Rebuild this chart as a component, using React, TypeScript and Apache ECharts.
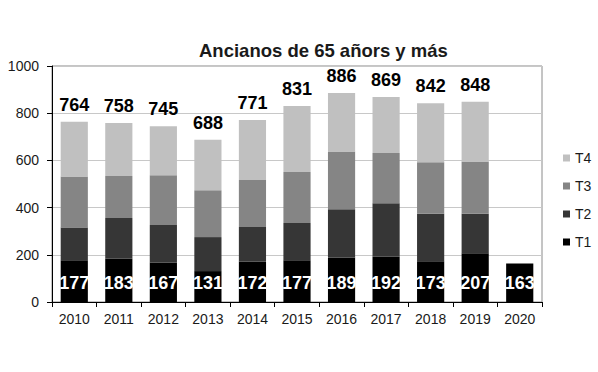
import React, { useEffect, useRef } from "react";
import * as echarts from "echarts";

const years = ["2010", "2011", "2012", "2013", "2014", "2015", "2016", "2017", "2018", "2019", "2020"];
const t1 = [177, 183, 167, 131, 172, 177, 189, 192, 173, 207, 163];
const t2: (number | null)[] = [139, 173, 159, 144, 146, 158, 204, 226, 201, 167, null];
const t3: (number | null)[] = [216, 178, 211, 198, 199, 216, 245, 213, 218, 221, null];
const t4: (number | null)[] = [232, 224, 208, 215, 254, 280, 248, 238, 250, 253, null];
const totals: (number | null)[] = [764, 758, 745, 688, 771, 831, 886, 869, 842, 848, null];
const yTicks = [0, 200, 400, 600, 800, 1000];

const FONT = "'Liberation Sans', Arial, sans-serif";

export default function App() {
  const ref = useRef<HTMLDivElement>(null);
  useEffect(() => {
    if (!ref.current) return;
    const chart = echarts.init(ref.current, null, { renderer: "svg" });
    const barCommon = {
      type: "bar" as const,
      stack: "total",
      barCategoryGap: "39%",
    };
    chart.setOption({
      animation: false,
      backgroundColor: "#ffffff",
      textStyle: { fontFamily: FONT },
      title: {
        text: "Ancianos de 65 añors y más",
        left: 194,
        top: 36,
        textStyle: { fontSize: 18.5, fontWeight: "bold", color: "#1a1a1a", fontFamily: FONT },
      },
      legend: {
        orient: "vertical",
        left: 558,
        top: 146,
        itemWidth: 7,
        itemHeight: 7,
        itemGap: 14,
        icon: "rect",
        data: ["T4", "T3", "T2", "T1"],
        textStyle: { fontSize: 14, color: "#1a1a1a", fontFamily: FONT },
      },
      grid: {
        left: 52,
        right: 56,
        top: 66,
        bottom: 70,
        show: true,
        borderColor: "#8a8a8a",
        borderWidth: 1,
      },
      xAxis: {
        type: "category",
        data: years,
        axisLine: { show: true, lineStyle: { color: "#000", width: 1 } },
        axisTick: { show: true, alignWithLabel: false, length: 5, lineStyle: { color: "#000" } },
        axisLabel: { fontSize: 14, color: "#1a1a1a", margin: 10, fontFamily: FONT },
        splitLine: { show: false },
      },
      yAxis: {
        type: "value",
        min: yTicks[0],
        max: yTicks[yTicks.length - 1],
        interval: 200,
        axisLine: { show: true, lineStyle: { color: "#000", width: 1 } },
        axisTick: { show: true, inside: false, length: 5, lineStyle: { color: "#000" } },
        axisLabel: {
          fontSize: 14,
          color: "#1a1a1a",
          margin: 13,
          fontFamily: FONT,
          formatter: (v: number) => String(v),
        },
        splitLine: { show: true, lineStyle: { color: "#c8c8c8", width: 1 } },
      },
      series: [
        {
          ...barCommon,
          name: "T1",
          data: t1,
          itemStyle: { color: "#000000" },
          label: {
            show: true,
            position: "insideBottom",
            distance: 10,
            color: "#ffffff",
            fontSize: 18,
            fontWeight: "bold",
            fontFamily: FONT,
          },
        },
        { ...barCommon, name: "T2", data: t2, itemStyle: { color: "#363636" } },
        { ...barCommon, name: "T3", data: t3, itemStyle: { color: "#858585" } },
        {
          ...barCommon,
          name: "T4",
          data: t4,
          itemStyle: { color: "#c0c0c0" },
          label: {
            show: true,
            position: "top",
            distance: 8,
            color: "#000000",
            fontSize: 18,
            fontWeight: "bold",
            fontFamily: FONT,
            formatter: (p: any) => (totals[p.dataIndex] == null ? "" : String(totals[p.dataIndex])),
          },
        },
      ],
    });
    return () => chart.dispose();
  }, []);
  return (
    <div
      ref={ref}
      style={{ position: "fixed", left: 0, top: 0, width: 598, height: 372 }}
    />
  );
}
